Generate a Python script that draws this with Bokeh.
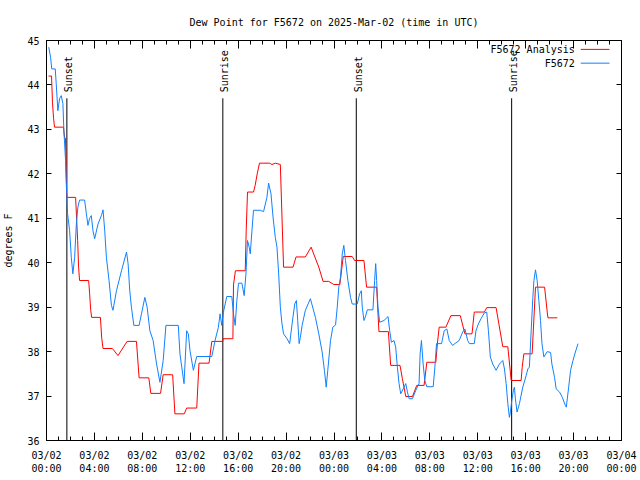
from math import pi
from bokeh.plotting import figure
from bokeh.models import Range1d, FixedTicker, LinearAxis, Label, Arrow
from bokeh.core.properties import value
from bokeh.embed import file_html
from bokeh.resources import INLINE

FONT = "DejaVu Sans Mono"

# ---- data (x in hours since 2025-03-02 00:00 UTC) ----
analysis_t = [0.17, 0.42, 0.50, 0.59, 0.67, 1.42, 1.51, 1.59, 1.68, 2.43, 2.60, 2.68, 2.76, 3.52, 3.60, 3.69,
              3.77, 4.50, 4.61, 4.72, 5.50, 5.97, 6.73, 7.51, 7.73, 8.54, 8.71, 9.52, 9.74, 10.53, 10.72,
              11.50, 11.70, 12.54, 12.73, 13.57, 13.80, 14.72, 14.73, 15.56, 15.61, 15.77, 16.59, 16.67,
              16.78, 17.28, 17.42, 17.59, 17.78, 18.62, 18.82, 19.10, 19.52, 19.79, 20.58, 20.83, 21.61,
              22.09, 22.73, 23.09, 23.56, 23.98, 24.49, 24.77, 25.52, 25.72, 26.50, 26.72, 27.56, 27.75,
              28.54, 28.73, 29.51, 29.71, 29.99, 30.55, 30.91, 31.52, 31.75, 32.50, 32.63, 32.78, 33.34,
              33.76, 34.54, 34.93, 35.52, 35.71, 36.55, 36.75, 37.53, 38.09, 38.51, 38.79, 39.62, 39.71,
              39.85, 40.54, 40.82, 41.58, 41.80, 41.86, 42.64]
analysis_v = [44.2, 44.2, 43.6, 43.25, 43.05, 43.05, 42.8, 42.8, 41.47, 41.47, 40.5, 39.9, 39.6, 39.6, 39.3, 38.93,
              38.77, 38.77, 38.3, 38.07, 38.07, 37.91, 38.23, 38.23, 37.41, 37.41, 37.06, 37.06, 37.48, 37.48, 36.6,
              36.6, 36.73, 36.73, 37.74, 37.74, 38.23, 38.23, 38.29, 38.29, 39.5, 39.82, 39.82, 40.72,
              41.59, 41.59, 41.74, 42.0, 42.24, 42.24, 42.21, 42.24, 42.21, 39.9, 39.9, 40.13, 40.13,
              40.35, 39.9, 39.58, 39.58, 39.51, 39.51, 40.14, 40.14, 40.05, 40.05, 39.45, 39.45, 38.45,
              38.45, 37.69, 37.69, 37.39, 36.99, 36.99, 37.24, 37.24, 37.76, 37.76, 38.18, 38.55, 38.55,
              38.81, 38.81, 38.4, 38.4, 38.89, 38.89, 38.99, 38.99, 38.11, 38.11, 37.35, 37.35, 37.65,
              37.95, 37.95, 39.45, 39.45, 38.89, 38.76, 38.76]

obs_t = [0.19, 0.34, 0.44, 0.73, 0.81, 0.95, 1.09, 1.23, 1.37, 1.45, 1.59, 1.65, 1.76, 1.93, 2.07, 2.20, 2.35,
         2.49, 2.62, 2.76, 3.18, 3.33, 3.46, 3.60, 3.74, 3.88, 4.02, 4.30, 4.58, 4.72, 4.86, 5.00, 5.22, 5.42,
         5.55, 5.84, 6.26, 6.68, 6.81, 6.95, 7.09, 7.29, 7.73, 7.93, 8.21, 8.40, 8.63, 8.90, 9.19, 9.47, 9.74,
         9.97, 11.00, 11.14, 11.48, 11.70, 11.84, 11.98, 12.26, 12.54, 13.80, 14.07, 14.35, 14.49, 14.63, 14.77,
         15.05, 15.47, 15.61, 15.75, 15.89, 16.03, 16.31, 16.50, 16.65, 16.78, 16.92, 17.01, 17.15, 17.28, 17.84,
         18.12, 18.40, 18.54, 18.74, 18.91, 19.10, 19.24, 19.38, 19.52, 19.66, 19.79, 20.08, 20.30, 20.50, 20.72,
         20.86, 20.97, 21.09, 21.19, 21.34, 21.61, 22.03, 22.45, 22.73, 23.01, 23.20, 23.35, 23.48, 23.71, 23.90,
         24.13, 24.27, 24.40, 24.54, 24.69, 24.82, 24.96, 25.16, 25.38, 25.52, 25.94, 26.14, 26.28, 26.36, 26.50,
         26.64, 26.78, 27.25, 27.39, 27.48, 27.56, 27.67, 27.81, 28.17, 28.51, 28.65, 28.79, 29.01, 29.15, 29.29,
         29.43, 29.57, 29.85, 29.99, 30.13, 30.27, 30.55, 30.83, 31.10, 31.19, 31.30, 31.44, 31.58, 31.75, 32.28,
         32.42, 32.56, 32.98, 33.20, 33.42, 33.62, 33.90, 34.09, 34.45, 34.74, 34.93, 35.16, 35.30, 35.71, 35.85,
         36.05, 36.27, 36.55, 36.75, 36.89, 37.05, 37.25, 37.53, 37.81, 38.09, 38.23, 38.37, 38.51, 38.64, 38.73,
         38.84, 38.98, 39.06, 39.14, 39.28, 39.48, 39.76, 40.04, 40.18, 40.31, 40.46, 40.60, 40.69, 40.82, 40.96,
         41.10, 41.24, 41.36, 41.52, 41.80, 42.08, 42.19, 42.41, 42.55, 42.83, 43.06, 43.31, 43.39, 43.59, 43.75,
         43.95, 44.15, 44.37]
obs_v = [44.85, 44.62, 44.36, 44.36, 44.03, 43.42, 43.69, 43.76, 43.58, 42.98, 42.3, 41.85, 41.1, 40.72, 40.12,
         39.75, 40.12, 40.87, 41.25, 41.41, 41.41, 41.1, 40.84, 41.0, 41.06, 40.72, 40.54, 40.87, 41.06, 41.19,
         40.72, 40.12, 39.6, 39.04, 38.93, 39.37, 39.82, 40.24, 39.98, 39.37, 39.0, 38.59, 38.59, 38.85, 39.22,
         39.0, 38.47, 38.25, 37.72, 37.31, 37.8, 38.59, 38.59, 37.95, 37.28, 38.47, 38.4, 38.02, 37.58, 37.89,
         37.89, 38.25, 38.55, 38.85, 38.59, 38.89, 39.24, 39.24, 38.85, 38.59, 39.15, 39.54, 39.54, 39.26, 39.75,
         40.5, 40.35, 40.2, 40.72, 41.18, 41.18, 41.15, 41.47, 41.79, 41.55, 41.03, 40.57, 40.35, 39.75, 39.0,
         38.62, 38.4, 38.29, 38.18, 38.62, 39.07, 39.15, 38.7, 38.18, 38.32, 38.59, 38.93, 39.19, 38.77, 38.4,
         37.99, 37.58, 37.2, 37.58, 38.25, 38.55, 38.6, 39.0, 39.45, 39.67, 40.2, 40.39, 40.05, 39.6, 39.22,
         39.07, 39.07, 39.3, 39.37, 39.0, 38.7, 38.8, 38.94, 38.94, 39.6, 39.98, 39.6, 39.0, 38.66, 38.7, 38.79,
         38.47, 38.21, 38.25, 38.1, 37.65, 37.28, 37.05, 37.2, 37.28, 37.09, 36.94, 36.94, 37.13, 37.28, 37.95,
         38.25, 37.72, 37.35, 37.21, 37.21, 37.65, 38.18, 38.18, 38.47, 38.51, 38.25, 38.14, 38.18, 38.25, 38.44,
         38.51, 38.25, 38.18, 38.18, 38.47, 38.62, 38.74, 38.87, 38.89, 38.47, 37.88, 37.72, 37.58, 37.72, 37.8,
         37.61, 37.28, 36.83, 36.52, 36.65, 36.9, 37.13, 37.2, 36.95, 36.64, 36.83, 37.2, 37.46, 37.61, 37.65,
         38.47, 39.22, 39.6, 39.84, 39.6, 39.15, 38.7, 38.18, 37.88, 38.0, 37.98, 37.72, 37.42, 37.16, 37.09,
         36.97, 36.79, 36.75, 37.2, 37.58, 37.8, 37.99, 38.18]

sun_t = [1.70, 14.72, 25.86, 38.83]
sun_labels = ["Sunset", "Sunrise", "Sunset", "Sunrise"]
sun_top = [43.7, 43.7, 43.7, 43.7]
sun_bottom = [36, 36, 36, 36]

x_ticks = [0, 4, 8, 12, 16, 20, 24, 28, 32, 36, 40, 44, 48]
x_tick_labels = ["03/02\n00:00", "03/02\n04:00", "03/02\n08:00", "03/02\n12:00", "03/02\n16:00",
                 "03/02\n20:00", "03/03\n00:00", "03/03\n04:00", "03/03\n08:00", "03/03\n12:00",
                 "03/03\n16:00", "03/03\n20:00", "03/04\n00:00"]
x_minor = list(range(0, 49))
y_ticks = [36, 37, 38, 39, 40, 41, 42, 43, 44, 45]

series_names = ["F5672 Analysis", "F5672"]
series_colors = ["#ff0000", "#1080ff"]

p = figure(width=640, height=480, output_backend="svg", toolbar_location=None,
           x_range=Range1d(0, 48), y_range=Range1d(36, 45),
           min_border_left=46, min_border_right=19, min_border_top=40, min_border_bottom=40,
           title="Dew Point for F5672 on 2025-Mar-02 (time in UTC)")
p.title.text_font = FONT
p.title.text_font_size = "10px"
p.title.text_font_style = "normal"
p.title.text_color = "black"
p.title.align = "center"
p.title.standoff = 25
p.outline_line_color = "black"
p.xgrid.visible = False
p.ygrid.visible = False

xt = FixedTicker(ticks=x_ticks, minor_ticks=x_minor)
yt = FixedTicker(ticks=y_ticks)

xa = p.xaxis[0]
xa.ticker = xt
xa.major_label_overrides = {t: l for t, l in zip(x_ticks, x_tick_labels)}
ya = p.yaxis[0]
ya.ticker = yt
ya.axis_label = "degrees F"
ya.axis_label_standoff = 10
ya.axis_label_text_font_style = "normal"

for ax in (xa, ya):
    ax.major_label_text_font = FONT
    ax.major_label_text_font_size = "10px"
    ax.major_label_text_color = "black"
    ax.axis_label_text_font = FONT
    ax.axis_label_text_font_size = "10px"
    ax.axis_label_text_color = "black"
    ax.major_tick_out = 0
    ax.minor_tick_out = 0
    ax.axis_line_color = "black"
    ax.major_tick_line_color = "black"
    ax.minor_tick_line_color = "black"
xa.major_label_standoff = 9
ya.major_label_standoff = 7
xa.major_tick_in = 8
xa.minor_tick_in = 4
ya.major_tick_in = 5
ya.minor_tick_line_color = None

top = LinearAxis(ticker=xt, major_label_text_color=None, major_label_text_font_size="1px",
                 major_label_standoff=0, major_tick_in=8, major_tick_out=0, minor_tick_in=4,
                 minor_tick_out=0, major_tick_line_color="black", minor_tick_line_color="black",
                 axis_line_color="black")
right = LinearAxis(ticker=yt, major_label_text_color=None, major_label_text_font_size="1px",
                   major_label_standoff=0, major_tick_in=5, major_tick_out=0,
                   minor_tick_line_color=None, major_tick_line_color="black",
                   axis_line_color="black")
p.add_layout(top, "above")
p.add_layout(right, "right")

p.segment(x0=sun_t, y0=sun_bottom, x1=sun_t, y1=sun_top, line_color="black", line_width=1)
p.text(x=sun_t, y=sun_top, text=sun_labels, angle=pi / 2, x_offset=2, y_offset=-6,
       text_font=value(FONT), text_font_size="10px", text_align="left", text_baseline="middle",
       text_color="black")

p.line(analysis_t, analysis_v, line_color=series_colors[0], line_width=1)
p.line(obs_t, obs_v, line_color=series_colors[1], line_width=1)

# gnuplot-style key (text right, sample line after it)
key_y = [44.80, 44.49]
for name, col, ky in zip(series_names, series_colors, key_y):
    p.add_layout(Label(x=44.10, y=ky, text=name, text_align="right", text_baseline="middle",
                       text_font=FONT, text_font_size="10px", text_color="black"))
    p.add_layout(Arrow(end=None, x_start=44.60, y_start=ky, x_end=47.0, y_end=ky,
                       line_color=col, line_width=1))

open("out.html", "w").write(file_html(p, INLINE))
